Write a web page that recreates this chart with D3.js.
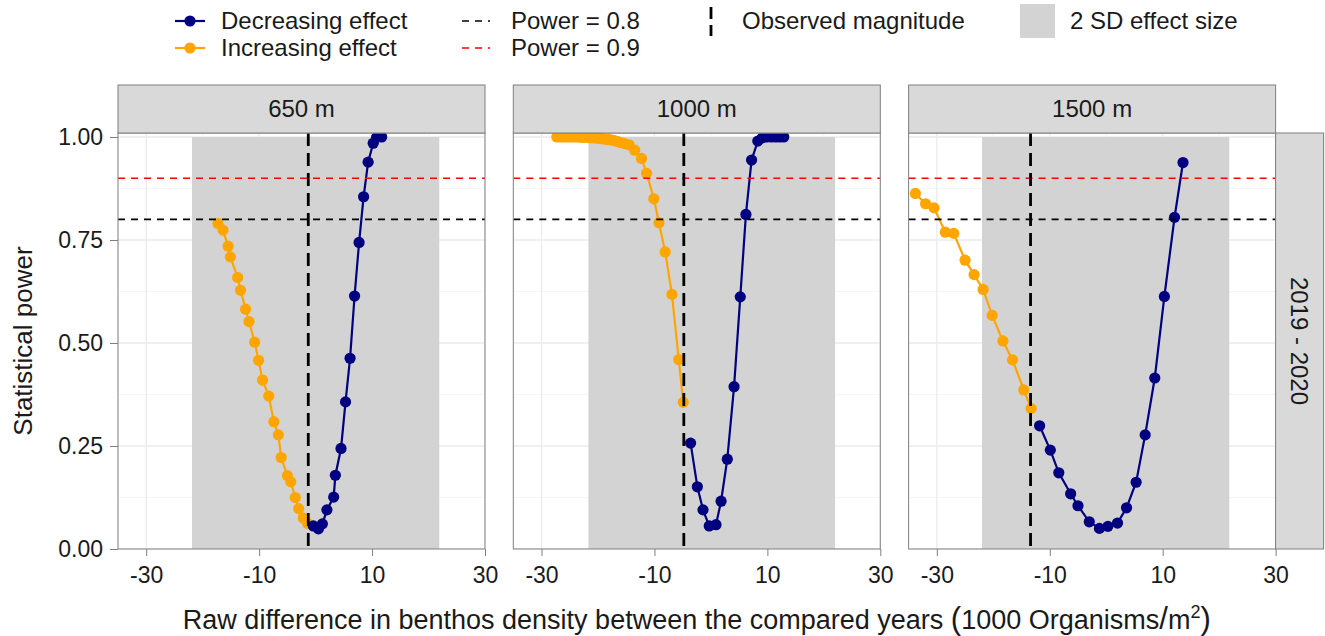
<!DOCTYPE html>
<html>
<head>
<meta charset="utf-8">
<script src="https://cdn.jsdelivr.net/npm/d3@7"></script>
<style>
  body { margin: 0; background: #fff; }
  text { font-family: "Liberation Sans", Arial, sans-serif; fill: #1a1a1a; }
</style>
</head>
<body>
<div id="container"></div>
<script>
var WIDTH = 1325;
var HEIGHT = 636;
var PANEL = { TOP: 133, BOTTOM: 549, LEFT: 118, WIDTH: 367, STEP: 395.3 };
var STRIP_H = 48;

// facets
const depths = ['650 m', '1000 m', '1500 m'];
const yearLabel = '2019 - 2020';
const observed = [-1.3, -4.8, -13.4];
const sdLow = [-21.9, -21.7, -22.0];
const sdHigh = [21.9, 22.0, 21.8];
const powerLines = [0.8, 0.9];

// increasing effect (orange)
const incX = [
  [-17.3, -16.4, -15.5, -15.1, -13.8, -13.3, -12.4, -11.8, -10.8, -10.1, -9.4, -8.3, -7.4, -6.6, -6.1, -5.0, -4.4, -3.6, -3.0, -2.2, -1.4],
  [-27.3, -26.7, -26.1, -25.5, -24.9, -24.3, -23.7, -23.1, -22.5, -21.9, -21.3, -20.7, -20.1, -19.5, -18.9, -18.3, -17.7, -17.1, -16.5, -15.9, -15.3, -14.5, -13.5, -12.3, -11.4, -10.1, -9.2, -8.1, -6.9, -5.7, -4.9],
  [-33.8, -32.0, -30.5, -28.5, -27.0, -25.0, -23.4, -21.8, -20.2, -18.3, -16.6, -14.6, -13.3]
];
const incY = [
  [0.790, 0.774, 0.735, 0.709, 0.659, 0.628, 0.582, 0.552, 0.502, 0.458, 0.410, 0.371, 0.309, 0.277, 0.222, 0.178, 0.163, 0.125, 0.098, 0.075, 0.062],
  [1, 1, 1, 1, 1, 1, 1, 0.999, 0.999, 0.999, 0.998, 0.998, 0.997, 0.996, 0.995, 0.994, 0.993, 0.991, 0.989, 0.986, 0.984, 0.981, 0.968, 0.948, 0.912, 0.850, 0.792, 0.721, 0.618, 0.460, 0.356],
  [0.863, 0.838, 0.828, 0.769, 0.766, 0.701, 0.666, 0.630, 0.567, 0.505, 0.459, 0.386, 0.341]
];

// decreasing effect (navy)
const decX = [
  [-0.4, 0.5, 1.2, 2.0, 3.2, 3.5, 4.5, 5.3, 6.1, 6.9, 7.7, 8.5, 9.3, 10.2, 10.8, 11.7],
  [-3.6, -2.4, -1.4, -0.3, 0.9, 1.8, 2.9, 4.1, 5.2, 6.2, 7.2, 8.3, 9.1, 9.9, 10.7, 11.5, 12.2, 12.9],
  [-11.8, -9.9, -8.4, -6.3, -5.0, -3.0, -1.2, 0.3, 2.0, 3.6, 5.3, 6.9, 8.6, 10.3, 12.1, 13.6]
];
const decY = [
  [0.056, 0.049, 0.061, 0.095, 0.126, 0.179, 0.244, 0.357, 0.463, 0.614, 0.744, 0.855, 0.939, 0.985, 0.999, 1.0],
  [0.257, 0.151, 0.095, 0.056, 0.059, 0.116, 0.218, 0.394, 0.612, 0.812, 0.944, 0.990, 0.998, 1, 1, 1, 1, 1],
  [0.299, 0.240, 0.185, 0.134, 0.105, 0.066, 0.050, 0.055, 0.063, 0.100, 0.162, 0.277, 0.415, 0.613, 0.805, 0.938]
];

const xTicks = [-30, -10, 10, 30];
const xMinor = [-20, 0, 20];
const yTicks = [0, 0.25, 0.5, 0.75, 1];
const yMinor = [0.125, 0.375, 0.625, 0.875];

const NAVY = '#000080';
const ORANGE = '#FFA500';
const RED = '#FF0000';
const BORDER = '#7f7f7f';
const STRIP_FILL = '#d9d9d9';
const RECT_FILL = '#d3d3d3';

const panelH = PANEL.BOTTOM - PANEL.TOP;

const svg = d3.select('#container')
  .append('svg')
    .attr('width', WIDTH)
    .attr('height', HEIGHT);

const x = d3.scaleLinear().domain([-35, 30]).range([0, PANEL.WIDTH]);
const y = d3.scaleLinear().domain([0, 1.0097]).range([panelH, 0]);

const line = d3.line().x(d => x(d[0])).y(d => y(d[1]));

depths.forEach((depth, i) => {
  const left = PANEL.LEFT + i * PANEL.STEP;
  const g = svg.append('g')
    .attr('transform', `translate(${left}, ${PANEL.TOP})`);

  g.append('clipPath').attr('id', 'clip' + i)
    .append('rect').attr('width', PANEL.WIDTH).attr('height', panelH);

  const inner = g.append('g').attr('clip-path', `url(#clip${i})`);

  // grid
  inner.selectAll('.gx-minor').data(xMinor).enter().append('line')
    .attr('x1', d => x(d)).attr('x2', d => x(d))
    .attr('y1', 0).attr('y2', panelH)
    .attr('stroke', '#f0f0f0').attr('stroke-width', 0.7);
  inner.selectAll('.gy-minor').data(yMinor).enter().append('line')
    .attr('x1', 0).attr('x2', PANEL.WIDTH)
    .attr('y1', d => y(d)).attr('y2', d => y(d))
    .attr('stroke', '#f0f0f0').attr('stroke-width', 0.7);
  inner.selectAll('.gx').data(xTicks).enter().append('line')
    .attr('x1', d => x(d)).attr('x2', d => x(d))
    .attr('y1', 0).attr('y2', panelH)
    .attr('stroke', '#ebebeb').attr('stroke-width', 1.3);
  inner.selectAll('.gy').data(yTicks).enter().append('line')
    .attr('x1', 0).attr('x2', PANEL.WIDTH)
    .attr('y1', d => y(d)).attr('y2', d => y(d))
    .attr('stroke', '#ebebeb').attr('stroke-width', 1.3);

  // 2 SD effect size
  inner.append('rect')
    .attr('x', x(sdLow[i]))
    .attr('y', y(1))
    .attr('width', x(sdHigh[i]) - x(sdLow[i]))
    .attr('height', y(0) - y(1))
    .attr('fill', RECT_FILL);

  // series
  const series = [
    { xs: incX[i], ys: incY[i], color: ORANGE },
    { xs: decX[i], ys: decY[i], color: NAVY }
  ];
  series.forEach(s => {
    const pts = s.xs.map((v, k) => [v, s.ys[k]]);
    inner.append('path')
      .datum(pts)
      .attr('d', line)
      .attr('fill', 'none')
      .attr('stroke', s.color)
      .attr('stroke-width', 2.2);
    inner.selectAll(null).data(pts).enter().append('circle')
      .attr('cx', d => x(d[0]))
      .attr('cy', d => y(d[1]))
      .attr('r', 5.6)
      .attr('fill', s.color);
  });

  // power thresholds
  inner.selectAll('.hl').data(powerLines).enter().append('line')
    .attr('x1', 0).attr('x2', PANEL.WIDTH)
    .attr('y1', d => y(d)).attr('y2', d => y(d))
    .attr('stroke', d => d === 0.9 ? RED : '#000')
    .attr('stroke-width', 1.6)
    .attr('stroke-dasharray', '7,6');

  // observed magnitude
  inner.append('line')
    .attr('x1', x(observed[i])).attr('x2', x(observed[i]))
    .attr('y1', 0).attr('y2', panelH)
    .attr('stroke', '#000')
    .attr('stroke-width', 2.8)
    .attr('stroke-dasharray', '13,7');

  // border
  g.append('rect')
    .attr('width', PANEL.WIDTH).attr('height', panelH)
    .attr('fill', 'none').attr('stroke', BORDER).attr('stroke-width', 1);

  // strip
  g.append('rect')
    .attr('y', -STRIP_H).attr('width', PANEL.WIDTH).attr('height', STRIP_H)
    .attr('fill', STRIP_FILL).attr('stroke', BORDER).attr('stroke-width', 1);
  g.append('text')
    .attr('x', PANEL.WIDTH / 2).attr('y', -STRIP_H / 2)
    .attr('dy', '0.35em')
    .attr('text-anchor', 'middle')
    .style('font-size', '24px')
    .text(depth);

  // x axis (plain hyphen for negatives, as in the original)
  const xAxis = g.append('g')
    .attr('transform', `translate(0, ${panelH})`)
    .call(d3.axisBottom(x).tickValues(xTicks).tickFormat(d => String(d)).tickSize(7).tickPadding(11));
  xAxis.select('.domain').remove();
  xAxis.selectAll('line').attr('stroke', BORDER);
  xAxis.selectAll('text').style('font-size', '23px').attr('fill', '#1a1a1a')
    .style('font-family', '"Liberation Sans", Arial, sans-serif');

  if (i === 0) {
    const yAxis = g.append('g')
      .call(d3.axisLeft(y).tickValues(yTicks).tickFormat(d3.format('.2f')).tickSize(8).tickPadding(7));
    yAxis.select('.domain').remove();
    yAxis.selectAll('line').attr('stroke', BORDER);
    yAxis.selectAll('text').style('font-size', '23px').attr('fill', '#1a1a1a')
      .style('font-family', '"Liberation Sans", Arial, sans-serif');
  }
});

// right strip
const stripLeft = PANEL.LEFT + 2 * PANEL.STEP + PANEL.WIDTH;
svg.append('rect')
  .attr('x', stripLeft).attr('y', PANEL.TOP)
  .attr('width', 48).attr('height', panelH)
  .attr('fill', STRIP_FILL).attr('stroke', BORDER).attr('stroke-width', 1);
svg.append('text')
  .attr('transform', `translate(${stripLeft + 24}, ${PANEL.TOP + panelH / 2}) rotate(90)`)
  .attr('dy', '0.35em')
  .attr('text-anchor', 'middle')
  .style('font-size', '24px')
  .text(yearLabel);

// axis titles
svg.append('text')
  .attr('transform', `translate(23, ${PANEL.TOP + panelH / 2}) rotate(-90)`)
  .attr('text-anchor', 'middle')
  .attr('dy', '0.35em')
  .style('font-size', '26px')
  .text('Statistical power');

const xTitle = svg.append('text')
  .attr('x', (PANEL.LEFT + stripLeft) / 2)
  .attr('y', 629)
  .attr('text-anchor', 'middle')
  .style('font-size', '27px');
xTitle.append('tspan').text('Raw difference in benthos density between the compared years ');
xTitle.append('tspan').style('font-size', '31px').text('(');
xTitle.append('tspan').text('1000 Organisms');
xTitle.append('tspan').style('font-size', '31px').text('/');
xTitle.append('tspan').text('m');
xTitle.append('tspan').attr('dy', -11).style('font-size', '18px').text('2');
xTitle.append('tspan').attr('dy', 11).style('font-size', '31px').text(')');

// legend
const legend = svg.append('g');
const ROW1 = 21, ROW2 = 48;

function pointKey(cy, color) {
  legend.append('line')
    .attr('x1', 175).attr('x2', 205).attr('y1', cy).attr('y2', cy)
    .attr('stroke', color).attr('stroke-width', 2.2);
  legend.append('circle').attr('cx', 190).attr('cy', cy).attr('r', 5.6).attr('fill', color);
}
function dashKey(cy, color) {
  legend.append('line')
    .attr('x1', 462).attr('x2', 490).attr('y1', cy).attr('y2', cy)
    .attr('stroke', color).attr('stroke-width', 1.6).attr('stroke-dasharray', '7,6');
}
function label(tx, cy, str) {
  legend.append('text').attr('x', tx).attr('y', cy).attr('dy', '0.35em')
    .style('font-size', '24px').text(str);
}

pointKey(ROW1, NAVY);
label(221, ROW1, 'Decreasing effect');
pointKey(ROW2, ORANGE);
label(221, ROW2, 'Increasing effect');
dashKey(ROW1, '#000');
label(511, ROW1, 'Power = ' + powerLines[0]);
dashKey(ROW2, RED);
label(511, ROW2, 'Power = ' + powerLines[1]);
legend.append('line')
  .attr('x1', 711).attr('x2', 711).attr('y1', 7).attr('y2', 36)
  .attr('stroke', '#000').attr('stroke-width', 2.8).attr('stroke-dasharray', '12,6');
label(742, ROW1, 'Observed magnitude');
legend.append('rect')
  .attr('x', 1020).attr('y', 4).attr('width', 35).attr('height', 34)
  .attr('fill', RECT_FILL);
label(1070, ROW1, '2 SD effect size');
</script>
</body>
</html>
